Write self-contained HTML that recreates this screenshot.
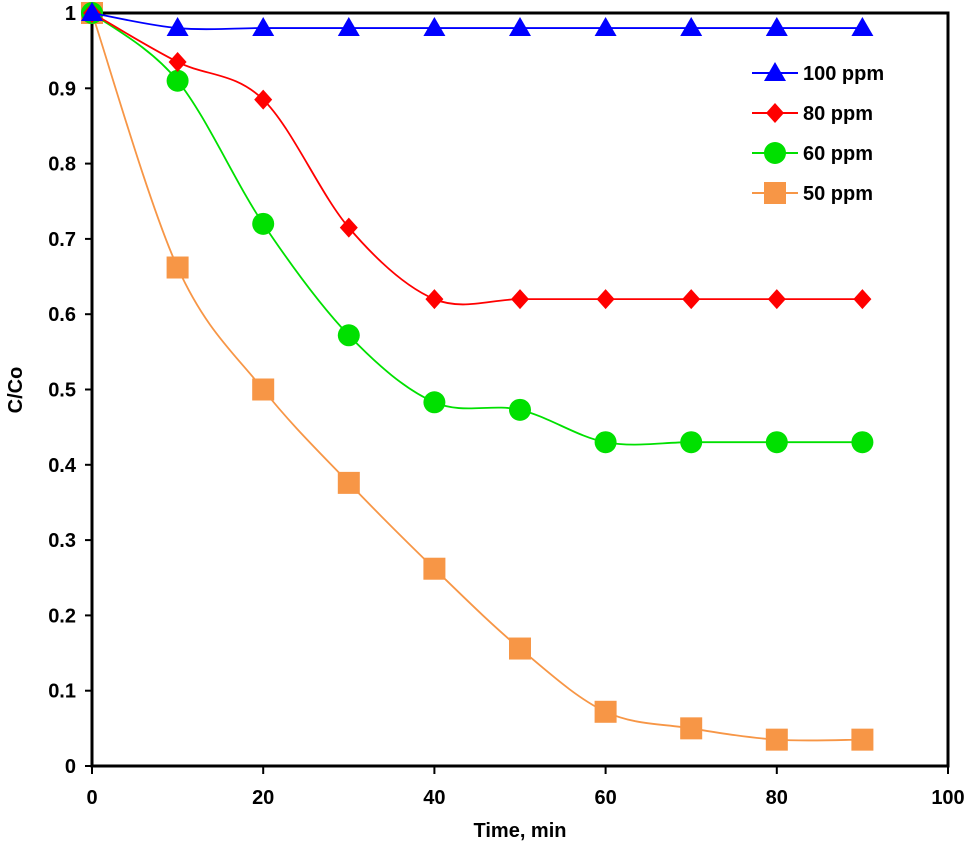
<!DOCTYPE html>
<html><head><meta charset="utf-8"><style>
body{margin:0;background:#fff}
svg text{font-family:"Liberation Sans Narrow","Liberation Sans",sans-serif;font-weight:bold;fill:#000}
</style></head><body>
<svg id="chart" width="969" height="845" xmlns="http://www.w3.org/2000/svg"></svg>
<script>
const times=[0,10,20,30,40,50,60,70,80,90];
const s100=[1,0.98,0.98,0.98,0.98,0.98,0.98,0.98,0.98,0.98];
const s80=[1,0.935,0.885,0.715,0.62,0.62,0.62,0.62,0.62,0.62];
const s60=[1,0.91,0.72,0.572,0.483,0.473,0.43,0.43,0.43,0.43];
const s50=[1,0.662,0.5,0.376,0.262,0.156,0.072,0.05,0.035,0.035];
const xTicks=[0,20,40,60,80,100];
const yTicks=[0,0.1,0.2,0.3,0.4,0.5,0.6,0.7,0.8,0.9,1];
const yLabels=["0","0.1","0.2","0.3","0.4","0.5","0.6","0.7","0.8","0.9","1"];
const seriesNames=["100 ppm","80 ppm","60 ppm","50 ppm"];

const L=92,R=948,T=13,B=766;
const X=v=>L+v/100*(R-L), Y=v=>B-v*(B-T);
const svg=document.getElementById('chart');
const NS='http://www.w3.org/2000/svg';
function mk(tag,attrs,parent){const e=document.createElementNS(NS,tag);for(const k in attrs)e.setAttribute(k,attrs[k]);(parent||svg).appendChild(e);return e;}

const frame=mk('rect',{x:L,y:T,width:R-L,height:B-T,fill:'none',stroke:'#000','stroke-width':3});


yTicks.forEach((v,i)=>{
  const t=mk('line',{x1:L-7,x2:L,y1:Y(v),y2:Y(v),stroke:'#000','stroke-width':2});
  
  
  const tx=mk('text',{x:L-16,y:Y(v)+7,'text-anchor':'end','font-size':20});
  tx.textContent=yLabels[i];
  
  
});
xTicks.forEach(v=>{
  const t=mk('line',{x1:X(v),x2:X(v),y1:B,y2:B+8,stroke:'#000','stroke-width':2});
  
  
  const tx=mk('text',{x:X(v),y:B+38,'text-anchor':'middle','font-size':20});
  tx.textContent=v;
  
  
});
const xt=mk('text',{x:(L+R)/2,y:837,'text-anchor':'middle','font-size':20});
xt.textContent='Time, min';


const yt=mk('text',{x:0,y:0,'text-anchor':'middle','font-size':20,transform:'translate(22,390) rotate(-90)'});
yt.textContent='C/Co';



function smoothPath(pts){
  let d='M'+pts[0][0]+','+pts[0][1];
  for(let i=0;i<pts.length-1;i++){
    const p0=pts[Math.max(i-1,0)],p1=pts[i],p2=pts[i+1],p3=pts[Math.min(i+2,pts.length-1)];
    const c1=[p1[0]+(p2[0]-p0[0])/6,p1[1]+(p2[1]-p0[1])/6];
    const c2=[p2[0]-(p3[0]-p1[0])/6,p2[1]-(p3[1]-p1[1])/6];
    d+=` C${c1[0]},${c1[1]} ${c2[0]},${c2[1]} ${p2[0]},${p2[1]}`;
  }
  return d;
}
function marker(shape,x,y,color,g){
  if(shape==='tri') return mk('polygon',{points:`${x},${y-11} ${x-11},${y+8} ${x+11},${y+8}`,fill:color},g);
  if(shape==='dia') return mk('polygon',{points:`${x},${y-10} ${x+9},${y} ${x},${y+10} ${x-9},${y}`,fill:color},g);
  if(shape==='circ') return mk('circle',{cx:x,cy:y,r:11,fill:color},g);
  return mk('rect',{x:x-11,y:y-11,width:22,height:22,fill:color},g);
}
const series=[[s100,'#0000ff','tri'],[s80,'#ff0000','dia'],[s60,'#00e000','circ'],[s50,'#f79646','sq']];
series.slice().reverse().forEach(([data,color,shape],ri)=>{
  const idx=series.length-1-ri;
  const g=mk('g',{});
  
  
  const pts=times.map((t,i)=>[X(t),Y(data[i])]);
  const p=mk('path',{d:smoothPath(pts),fill:'none',stroke:color,'stroke-width':1.8},g);
  
  
  pts.forEach(([x,y])=>{
    const m=marker(shape,x,y,color,g);
    
    
  });
});
series.forEach(([data,color,shape],i)=>{
  const y=73+i*40;
  const g=mk('g',{});
  
  
  mk('line',{x1:752,x2:798,y1:y,y2:y,stroke:color,'stroke-width':2},g);
  marker(shape,775,y,color,g);
  const t=mk('text',{x:803,y:y+7,'font-size':20},g);
  t.textContent=seriesNames[i];
});
</script>
</body></html>
